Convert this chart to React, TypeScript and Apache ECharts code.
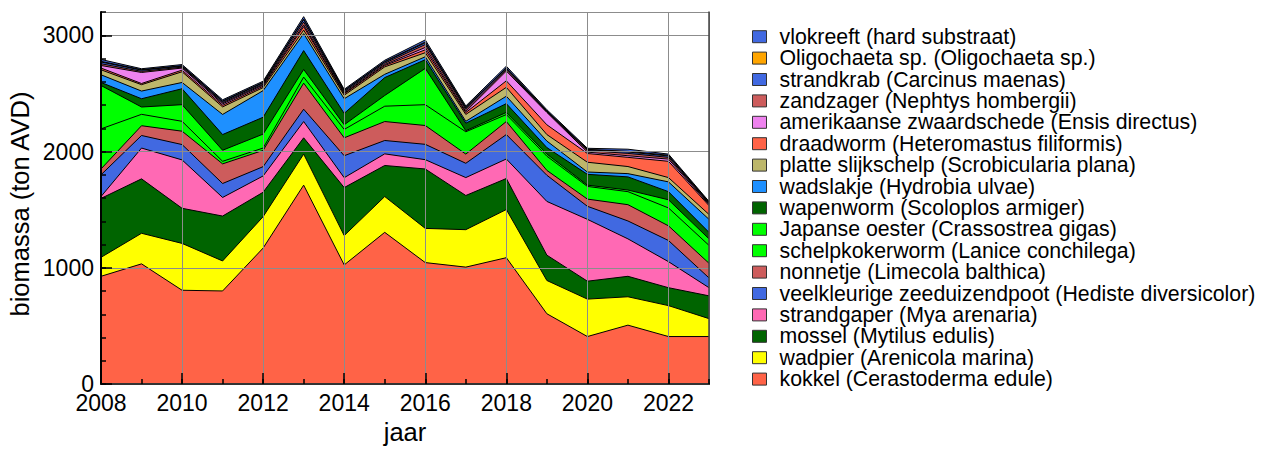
import React, { useEffect, useRef } from "react";
import * as echarts from "echarts";

const years = [2008, 2009, 2010, 2011, 2012, 2013, 2014, 2015, 2016, 2017, 2018, 2019, 2020, 2021, 2022, 2023];

// bottom of the stack first
const kokkel = [927, 1034, 807, 801, 1170, 1711, 1025, 1305, 1045, 1006, 1087, 605, 409, 507, 409, 409];
const wadpier = [163, 263, 403, 258, 270, 267, 252, 308, 294, 322, 414, 286, 322, 244, 266, 154];
const mossel = [507, 468, 302, 386, 210, 140, 413, 267, 511, 294, 267, 218, 154, 176, 154, 196];
const strandgaper = [16, 265, 416, 160, 140, 140, 85, 100, 80, 154, 168, 462, 532, 322, 224, 70];
const veelkleurige = [187, 108, 132, 120, 80, 106, 189, 115, 132, 123, 210, 225, 112, 154, 182, 84];
const nonnetje = [50, 84, 115, 169, 140, 224, 154, 163, 162, 79, 112, 42, 62, 140, 126, 126];
const schelpkokerworm = [345, 98, 85, 22, 20, 52, 72, 132, 179, 192, 60, 122, 109, 112, 154, 154];
const japanseOester = [373, 63, 143, 95, 120, 66, 40, 92, 312, 9, 18, 18, 11, 14, 70, 56];
const wapenworm = [26, 71, 137, 135, 145, 162, 98, 154, 75, 65, 76, 56, 93, 113, 70, 56];
const wadslakje = [66, 66, 54, 173, 229, 146, 126, 28, 25, 16, 64, 56, 20, 28, 84, 112];
const platteSlijkschelp = [43, 55, 92, 65, 26, 30, 30, 64, 35, 59, 76, 56, 84, 61, 37, 42];
const draadworm = [15, 10, 14, 14, 12, 30, 12, 12, 25, 16, 56, 84, 75, 79, 140, 76];
const zwaardschede = [22, 95, 18, 12, 10, 15, 6, 8, 20, 10, 84, 106, 12, 14, 19, 10];
const zandzager = [15, 10, 8, 10, 8, 25, 10, 12, 25, 17, 13, 6, 13, 20, 15, 8];
const strandkrab = [15, 10, 8, 10, 10, 20, 10, 10, 15, 13, 10, 6, 7, 12, 12, 7];
const oligochaeta = [5, 4, 4, 5, 5, 6, 4, 4, 7, 5, 5, 2, 4, 6, 6, 5];
const vlokreeft = [17, 8, 10, 10, 10, 20, 9, 11, 18, 12, 14, 10, 9, 18, 10, 6];

const names = [
  "kokkel (Cerastoderma edule)",
  "wadpier (Arenicola marina)",
  "mossel (Mytilus edulis)",
  "strandgaper (Mya arenaria)",
  "veelkleurige zeeduizendpoot (Hediste diversicolor)",
  "nonnetje (Limecola balthica)",
  "schelpkokerworm (Lanice conchilega)",
  "Japanse oester (Crassostrea gigas)",
  "wapenworm (Scoloplos armiger)",
  "wadslakje (Hydrobia ulvae)",
  "platte slijkschelp (Scrobicularia plana)",
  "draadworm (Heteromastus filiformis)",
  "amerikaanse zwaardschede (Ensis directus)",
  "zandzager (Nephtys hombergii)",
  "strandkrab (Carcinus maenas)",
  "Oligochaeta sp. (Oligochaeta sp.)",
  "vlokreeft (hard substraat)",
];
const values = [
  kokkel, wadpier, mossel, strandgaper, veelkleurige, nonnetje, schelpkokerworm, japanseOester,
  wapenworm, wadslakje, platteSlijkschelp, draadworm, zwaardschede, zandzager, strandkrab, oligochaeta, vlokreeft,
];
const colors = [
  "#FF6347", "#FFFF00", "#006400", "#FF69B4", "#4169E1", "#CD5C5C", "#00FF00", "#00FF00",
  "#006400", "#1E90FF", "#BDB76B", "#FF6347", "#EE82EE", "#CD5C5C", "#4169E1", "#FFA500", "#4169E1",
];
const yTicks = [0, 1000, 2000, 3000];

const FONT = "'Liberation Sans', Arial, Helvetica, sans-serif";

export default function App() {
  const ref = useRef<HTMLDivElement>(null);
  useEffect(() => {
    document.body.style.margin = "0";
    const chart = echarts.init(ref.current!, null, { renderer: "svg" });
    const cum: number[][] = [];
    values.forEach((arr, i) => {
      cum.push(arr.map((v, j) => (i === 0 ? v : cum[i - 1][j] + v)));
    });
    const order = names.map((_, i) => i).reverse();
    const series = order.map((i) => ({
      name: names[i],
      type: "line",
      data: years.map((y, j) => [y, cum[i][j]]),
      symbol: "none",
      showSymbol: false,
      lineStyle: { color: "#000", width: 1 },
      areaStyle: { color: colors[i], opacity: 1 },
      itemStyle: { color: colors[i] },
      color: colors[i],
      z: 2,
      silent: true,
    }));
    const axisFont = { fontFamily: FONT, fontSize: 23, color: "#000" };
    chart.setOption({
      animation: false,
      color: order.map((i) => colors[i]),
      grid: { left: 101, top: 12, right: 557, bottom: 58, containLabel: false },
      legend: {
        orient: "vertical",
        left: 752,
        top: 26,
        padding: 0,
        icon: "rect",
        itemWidth: 14,
        itemHeight: 12,
        itemGap: 0,
        data: names.slice().reverse(),
        itemStyle: { borderColor: "#333", borderWidth: 1 },
        textStyle: { fontFamily: FONT, fontSize: 21.3, color: "#000", lineHeight: 21.4, padding: [0, 0, 0, 8] },
        selectedMode: false,
      },
      xAxis: [
        {
          type: "value",
          min: 2008,
          max: 2023,
          interval: 2,
          z: 5,
          name: "jaar",
          nameLocation: "middle",
          nameGap: 31,
          nameTextStyle: { fontFamily: FONT, fontSize: 25.5, color: "#000" },
          axisLine: { show: true, lineStyle: { color: "#000", width: 2 } },
          axisTick: { show: true, inside: true, length: 11, lineStyle: { color: "#000", width: 1.5 } },
          axisLabel: { ...axisFont, margin: 7, showMaxLabel: false, formatter: (v: number) => String(v) },
          splitLine: { show: true, lineStyle: { color: "#8c8c8c", width: 1 } },
        },
        {
          type: "value",
          min: 2008,
          max: 2023,
          interval: 1,
          position: "bottom",
          z: 5,
          axisLine: { show: false },
          axisTick: { show: true, inside: true, length: 5, lineStyle: { color: "#000", width: 1.5 } },
          axisLabel: { show: false },
          splitLine: { show: false },
        },
        {
          type: "value",
          min: 2008,
          max: 2023,
          position: "top",
          z: 5,
          axisLine: { show: true, lineStyle: { color: "#444", width: 1.5 } },
          axisTick: { show: false },
          axisLabel: { show: false },
          splitLine: { show: false },
        },
      ],
      yAxis: [
        {
          type: "value",
          min: 0,
          max: 3200,
          interval: 1000,
          z: 5,
          name: "biomassa (ton AVD)",
          nameLocation: "middle",
          nameGap: 68,
          nameTextStyle: { fontFamily: FONT, fontSize: 25.5, color: "#000", padding: [0, 12, 0, 0] },
          axisLine: { show: true, lineStyle: { color: "#000", width: 2 } },
          axisTick: { show: true, inside: true, length: 11, lineStyle: { color: "#000", width: 1.5 } },
          axisLabel: {
            ...axisFont,
            margin: 7,
            showMaxLabel: false,
            formatter: (v: number) => (yTicks.includes(v) ? String(v) : ""),
          },
          splitLine: { show: true, lineStyle: { color: "#8c8c8c", width: 1 } },
        },
        {
          type: "value",
          min: 0,
          max: 3200,
          interval: 200,
          position: "left",
          z: 5,
          axisLine: { show: false },
          axisTick: { show: true, inside: true, length: 5, lineStyle: { color: "#000", width: 1.5 } },
          axisLabel: { show: false },
          splitLine: { show: false },
        },
        {
          type: "value",
          min: 0,
          max: 3200,
          position: "right",
          z: 5,
          axisLine: { show: true, lineStyle: { color: "#444", width: 1.5 } },
          axisTick: { show: false },
          axisLabel: { show: false },
          splitLine: { show: false },
        },
      ],
      series,
    });
    return () => chart.dispose();
  }, []);
  return <div ref={ref} style={{ width: 1266, height: 450 }} />;
}
